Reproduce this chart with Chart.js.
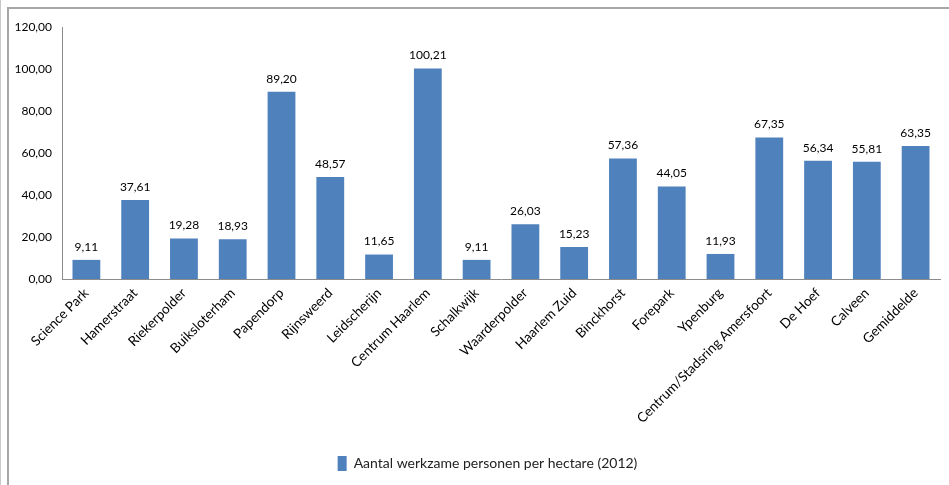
<!DOCTYPE html>
<html>
<head>
<meta charset="utf-8">
<script src="https://cdn.jsdelivr.net/npm/chart.js@4"></script>
<style>
  html, body { margin: 0; padding: 0; background: #fff; }
  #wrap { position: relative; width: 949px; height: 485px; overflow: hidden; }
  #frame { position: absolute; left: 7px; top: 7px; width: 960px; height: 500px;
           border-top: 2px solid #a6a6a6; border-left: 2px solid #a6a6a6; box-sizing: border-box; }
  #edge { position: absolute; left: 0; top: 0; width: 1px; height: 485px; background: #c8c8c8; }
  canvas { position: absolute; left: 0; top: 0; }
</style>
</head>
<body>
<div id="wrap">
  <div id="edge"></div>
  <div id="frame"></div>
  <canvas id="werk" width="949" height="485"></canvas>
</div>
<script>
const wijken = [
  "Science Park", "Hamerstraat", "Riekerpolder", "Buiksloterham", "Papendorp",
  "Rijnsweerd", "Leidscherijn", "Centrum Haarlem", "Schalkwijk", "Waarderpolder",
  "Haarlem Zuid", "Binckhorst", "Forepark", "Ypenburg", "Centrum/Stadsring Amersfoort",
  "De Hoef", "Calveen", "Gemiddelde"
];
const werkzaamPerHa = [
  9.11, 37.61, 19.28, 18.93, 89.20, 48.57, 11.65, 100.21, 9.11, 26.03,
  15.23, 57.36, 44.05, 11.93, 67.35, 56.34, 55.81, 63.35
];
const yTicks = [0, 20, 40, 60, 80, 100, 120];
const reeksNaam = 'Aantal werkzame personen per hectare (2012)';

Chart.defaults.font.family = 'Lato, "Open Sans", sans-serif';
Chart.defaults.font.size = 12;
Chart.defaults.color = '#000000';

const komma = v => v.toFixed(2).replace('.', ',');

// waarde boven elke staaf
const waardeLabels = {
  id: 'waardeLabels',
  afterDatasetsDraw(chart) {
    const ctx = chart.ctx;
    const meta = chart.getDatasetMeta(0);
    ctx.save();
    ctx.font = '12px Lato, "Open Sans", sans-serif';
    ctx.fillStyle = '#000';
    ctx.textAlign = 'center';
    ctx.textBaseline = 'bottom';
    meta.data.forEach((bar, i) => {
      ctx.fillText(komma(werkzaamPerHa[i]), bar.x, bar.y - 7);
    });
    ctx.restore();
  }
};

// legenda iets naar rechts schuiven
const legendaOpschuiven = {
  id: 'legendaOpschuiven',
  afterLayout(chart) {
    chart.legend.left += 14;
    chart.legend.right += 14;
  }
};

new Chart(document.getElementById('werk'), {
  type: 'bar',
  data: {
    labels: wijken,
    datasets: [{
      label: reeksNaam,
      data: werkzaamPerHa,
      backgroundColor: '#4F81BD',
      borderWidth: 0,
      categoryPercentage: 1,
      barPercentage: 0.57
    }]
  },
  options: {
    responsive: false,
    animation: false,
    layout: { padding: { left: 7, right: 9, top: 27, bottom: 4 } },
    plugins: {
      tooltip: { enabled: false },
      legend: {
        position: 'bottom',
        labels: {
          boxWidth: 9,
          boxHeight: 15,
          padding: 8,
          color: '#222',
          font: { size: 14 }
        }
      }
    },
    scales: {
      x: {
        grid: { display: false, drawTicks: false },
        border: { display: true, color: '#8c8c8c', width: 1 },
        ticks: { minRotation: 45, maxRotation: 45, autoSkip: false, padding: 6, font: { size: 13.5 } },
        afterFit: s => { s.height = 169; }
      },
      y: {
        min: 0,
        max: 120,
        grid: { display: false, drawTicks: false },
        border: { display: true, color: '#8c8c8c', width: 1 },
        afterBuildTicks: s => { s.ticks = yTicks.map(v => ({ value: v })); },
        ticks: { padding: 10, callback: v => komma(v) },
        afterFit: s => { s.width = 55; }
      }
    }
  },
  plugins: [waardeLabels, legendaOpschuiven]
});
</script>
</body>
</html>
